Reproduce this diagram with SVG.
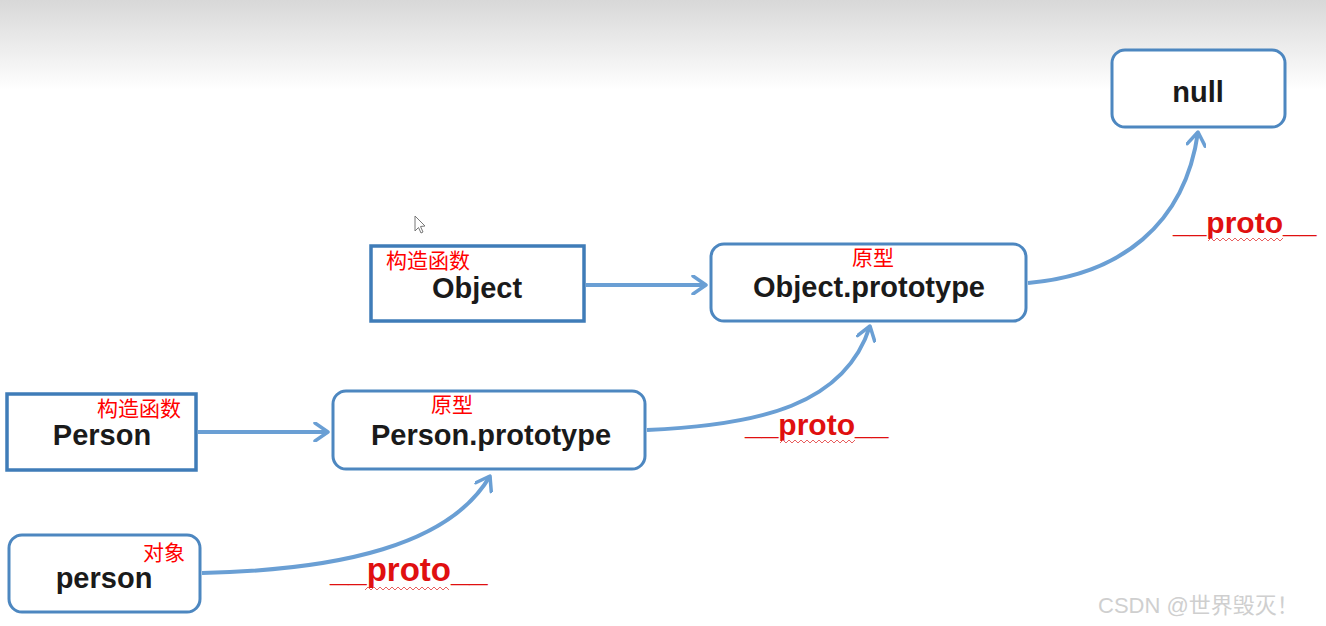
<svg xmlns="http://www.w3.org/2000/svg" width="1326" height="626" viewBox="0 0 1326 626">
<defs>
<linearGradient id="bg" x1="0" y1="0" x2="0" y2="1">
<stop offset="0" stop-color="#d8d8d8"/>
<stop offset="1" stop-color="#ffffff"/>
</linearGradient>
<marker id="arr" viewBox="-16 -10 20 20" markerWidth="20" markerHeight="20" refX="0" refY="0" orient="auto" markerUnits="userSpaceOnUse">
<path d="M-13,-9 L0,0 L-13,9" fill="none" stroke="#6a9fd4" stroke-width="3.5" stroke-linecap="round" stroke-linejoin="round"/>
</marker>
<style>
.box{fill:#ffffff;stroke:#4d87c0;stroke-width:3}
.sq{fill:#ffffff;stroke:#3f7cb8;stroke-width:3.5}
.lbl{font-family:"Liberation Sans",Arial,sans-serif;font-weight:bold;font-size:29px;fill:#1a1a1a;text-anchor:middle}
.cn{font-family:"Liberation Sans","Noto Sans CJK SC",sans-serif;font-size:21px;fill:#ff0000}
.proto{font-family:"Liberation Sans",Arial,sans-serif;font-weight:bold;fill:#e01010}
.conn{fill:none;stroke:#6a9fd4;stroke-width:4;marker-end:url(#arr)}
.wave{fill:none;stroke:#e86060;stroke-width:1}
</style>
</defs>
<rect x="0" y="0" width="1326" height="90" fill="url(#bg)"/>
<rect x="0" y="90" width="1326" height="536" fill="#ffffff"/>

<g id="null">
<rect class="box" x="1112" y="50" width="173" height="77" rx="13"/>
<text class="lbl" x="1198" y="102">null</text>
</g>
<g id="Object">
<rect class="sq" x="371" y="246" width="213" height="75"/>
<text class="lbl" x="477" y="298">Object</text>
<text class="cn" x="386" y="268">构造函数</text>
</g>
<g id="ObjectPrototype">
<rect class="box" x="711" y="244" width="315" height="77" rx="13"/>
<text class="lbl" x="869" y="297">Object.prototype</text>
<text class="cn" x="852" y="265">原型</text>
</g>
<g id="Person">
<rect class="sq" x="7" y="394" width="189" height="76"/>
<text class="lbl" x="102" y="445">Person</text>
<text class="cn" x="97" y="416">构造函数</text>
</g>
<g id="PersonPrototype">
<rect class="box" x="333" y="391" width="312" height="78" rx="13"/>
<text class="lbl" x="491" y="445">Person.prototype</text>
<text class="cn" x="431" y="412">原型</text>
</g>
<g id="person">
<rect class="box" x="9" y="535" width="191" height="77" rx="13"/>
<text class="lbl" x="104" y="588">person</text>
<text class="cn" x="143" y="560">对象</text>
</g>

<g id="connectors">
<path class="conn" d="M586,285 L706,285"/>
<path class="conn" d="M198,432 L328,432"/>
<path class="conn" d="M202,573 C340,570 450,545 490,476"/>
<path class="conn" d="M647,430 C760,425 845,405 870,326"/>
<path class="conn" d="M1028,283 C1120,275 1185,225 1198,132"/>
</g>

<g id="labels">
<text class="proto" x="330" y="581" font-size="33">__proto__</text>
<polyline class="wave" points="365,590 368,587 371,590 374,587 377,590 380,587 383,590 386,587 389,590 392,587 395,590 398,587 401,590 404,587 407,590 410,587 413,590 416,587 419,590 422,587 425,590 428,587 431,590 434,587 437,590 440,587 443,590 446,587 449,590"/>
<text class="proto" x="745" y="435" font-size="30">__proto__</text>
<polyline class="wave" points="780,443 783,440 786,443 789,440 792,443 795,440 798,443 801,440 804,443 807,440 810,443 813,440 816,443 819,440 822,443 825,440 828,443 831,440 834,443 837,440 840,443 843,440 846,443 849,440 852,443 855,440"/>
<text class="proto" x="1173" y="233" font-size="30">__proto__</text>
<polyline class="wave" points="1208,241 1211,238 1214,241 1217,238 1220,241 1223,238 1226,241 1229,238 1232,241 1235,238 1238,241 1241,238 1244,241 1247,238 1250,241 1253,238 1256,241 1259,238 1262,241 1265,238 1268,241 1271,238 1274,241 1277,238 1280,241 1283,238"/>
</g>

<path d="M415,216 L415,231 L418.5,227.5 L421,233 L423,232 L420.5,226.5 L425,226 Z" fill="#ffffff" stroke="#777777" stroke-width="1"/>

<text x="1098" y="613" font-family="'Liberation Sans','Noto Sans CJK SC',sans-serif" font-size="22" fill="#cfcfcf">CSDN @世界毁灭！</text>
</svg>
